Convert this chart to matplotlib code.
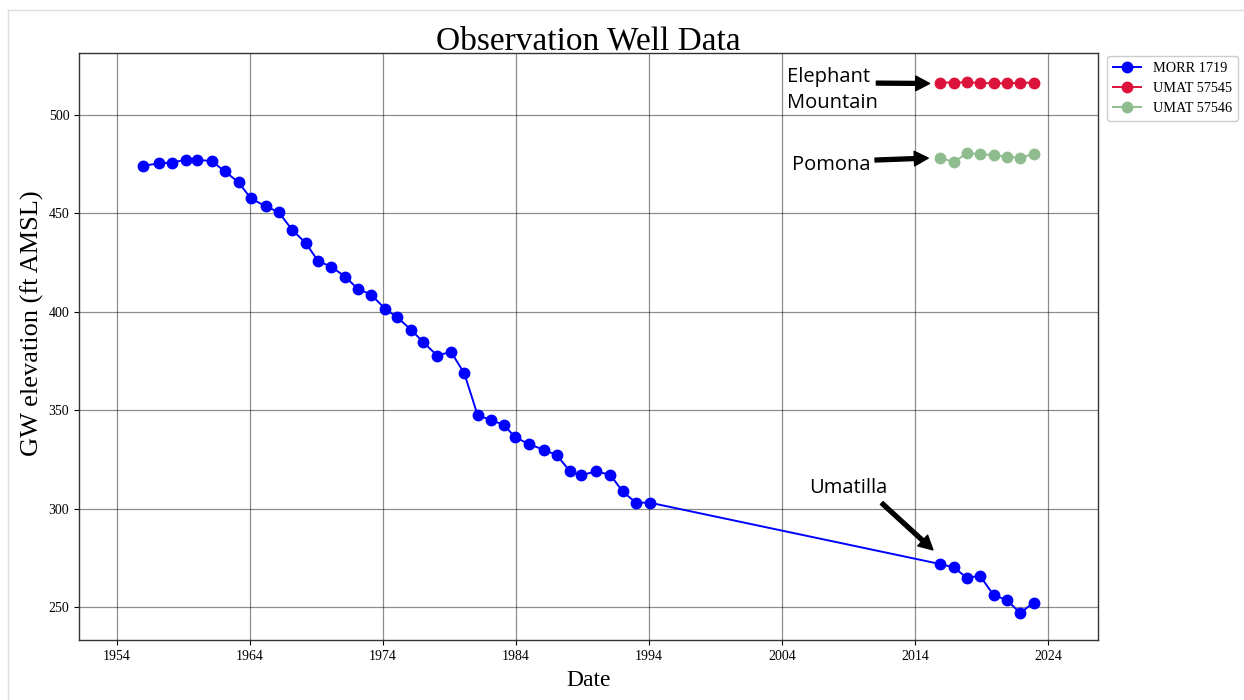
import matplotlib
matplotlib.use("Agg")
import matplotlib.pyplot as plt
from matplotlib.lines import Line2D

# ---- data ----
morr_years = [1955.98, 1957.16, 1958.11, 1959.19, 1960.0, 1961.14, 1962.09, 1963.14,
              1964.05, 1965.17, 1966.15, 1967.17, 1968.18, 1969.13, 1970.11, 1971.16,
              1972.11, 1973.11, 1974.16, 1975.06, 1976.14, 1977.0, 1978.08, 1979.11,
              1980.11, 1981.11, 1982.11, 1983.09, 1983.89, 1984.97, 1986.08, 1987.08,
              1988.06, 1988.9, 1990.0, 1991.08, 1992.01, 1993.0, 1994.05,
              2015.9, 2016.93, 2017.88, 2018.9, 2019.91, 2020.93, 2021.91, 2022.92]
morr_values = [474.2, 475.4, 475.8, 477.3, 477.3, 476.5, 471.4, 465.8,
               457.7, 453.6, 450.7, 441.6, 435.0, 425.7, 422.9, 417.8,
               411.6, 408.7, 401.5, 397.2, 390.7, 384.7, 377.7, 379.7,
               368.7, 347.6, 344.9, 342.6, 336.5, 332.7, 329.9, 327.1,
               318.9, 316.9, 318.9, 317.2, 308.8, 303.0, 303.0,
               271.8, 270.1, 264.9, 265.7, 256.1, 253.4, 246.9, 252.2]

umat_years = [2015.9, 2016.93, 2017.88, 2018.9, 2019.91, 2020.93, 2021.91, 2022.92]
umat57545_values = [516.5, 516.5, 516.6, 516.3, 516.1, 516.1, 516.3, 516.5]
umat57546_values = [478.3, 476.0, 480.5, 480.2, 479.5, 478.9, 478.2, 480.2]

xtick_years = [1954, 1964, 1974, 1984, 1994, 2004, 2014, 2024]
ytick_values = [250, 300, 350, 400, 450, 500]

series_labels = ["MORR 1719", "UMAT 57545", "UMAT 57546"]
annotation_texts = ["Elephant\nMountain", "Pomona", "Umatilla"]

serif = ["Liberation Serif", "DejaVu Serif"]
sans = ["Open Sans", "DejaVu Sans"]

fig = plt.figure(figsize=(12.44, 7.0), dpi=100)
ax = fig.add_axes([0.0635, 0.0857, 0.8191, 0.8386])

ax.plot(morr_years, morr_values, "-o", color="#0000ff", lw=1.4, ms=7.5, label=series_labels[0], zorder=3)
ax.plot(umat_years, umat57545_values, "-o", color="#dc143c", lw=1.4, ms=7.5, label=series_labels[1], zorder=3)
ax.plot(umat_years, umat57546_values, "-o", color="#8fbc8f", lw=1.4, ms=7.5, label=series_labels[2], zorder=3)

ax.set_xlim(1951.14, 2027.76)
ax.set_ylim(233.2, 531.5)
ax.set_xticks(xtick_years)
ax.set_xticklabels([str(y) for y in xtick_years], family=serif, fontsize=10)
ax.set_yticks(ytick_values)
ax.set_yticklabels([str(v) for v in ytick_values], family=serif, fontsize=10)
ax.grid(True, color="black", alpha=0.45, lw=0.9)
ax.set_axisbelow(True)
for s in ax.spines.values():
    s.set_color("#333333")
    s.set_linewidth(1.0)

ax.set_title("Observation Well Data", family=serif, fontsize=24, y=1.0056, pad=0)
ax.set_xlabel("Date", family=serif, fontsize=17, labelpad=5)
ax.set_ylabel("GW elevation (ft AMSL)", family=serif, fontsize=19, labelpad=0)
ax.yaxis.set_label_coords(-0.034, 0.54)

leg = ax.legend(loc="upper left", bbox_to_anchor=(1.009, 0.995), borderaxespad=0,
                prop={"family": serif, "size": 10.3}, framealpha=1, edgecolor="#cccccc")

arrow = dict(facecolor="black", edgecolor="black", width=2.8, headwidth=10.5, headlength=10, shrink=0)

# Elephant Mountain
ax.text(2004.4, 512.7, annotation_texts[0], ha="left", va="center",
        family=sans, fontsize=14.5, linespacing=1.4)
ax.annotate("", xy=(2015.1, 516.0), xytext=(2011.1, 516.2), arrowprops=arrow)

# Pomona
ax.text(2004.75, 474.6, annotation_texts[1], ha="left", va="center", family=sans, fontsize=14.5)
ax.annotate("", xy=(2015.0, 478.1), xytext=(2011.0, 477.1), arrowprops=arrow)

# Umatilla
ax.text(2008.96, 310.5, annotation_texts[2], ha="center", va="center", family=sans, fontsize=14.5)
ax.annotate("", xy=(2015.35, 279.0), xytext=(2011.5, 302.8), arrowprops=arrow)

# outer light frame (screenshot border)
fig.add_artist(Line2D([8 / 1244, 8 / 1244], [0, 1 - 10 / 700], color="#dddddd", lw=1, transform=fig.transFigure))
fig.add_artist(Line2D([8 / 1244, 1], [1 - 10 / 700, 1 - 10 / 700], color="#dddddd", lw=1, transform=fig.transFigure))

fig.savefig("out.png", dpi=100)
